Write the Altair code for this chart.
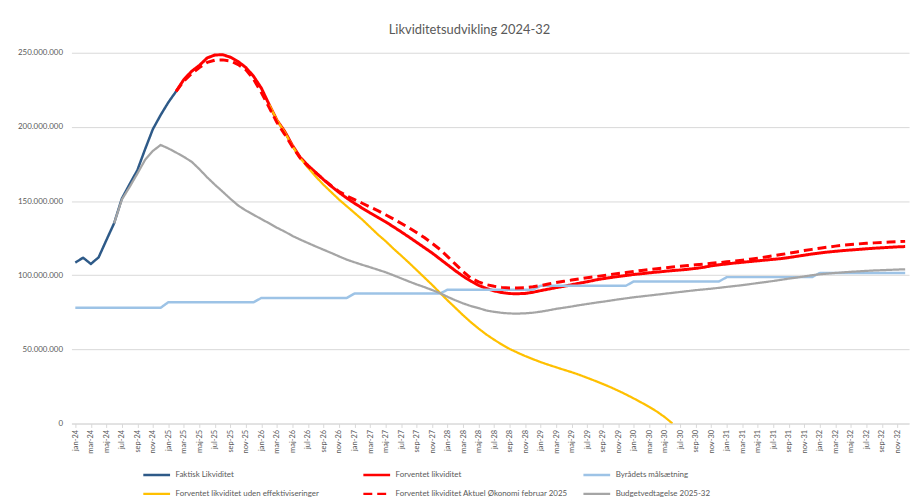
import altair as alt
import pandas as pd

# ---------------- data (values in millions DKK) ----------------
month_names = ["jan", "feb", "mar", "apr", "maj", "jun", "jul", "aug", "sep", "okt", "nov", "dec"]
years = ["24", "25", "26", "27", "28", "29", "30", "31", "32"]
months = [f"{m}-{y}" for y in years for m in month_names]

series_order = [
    "Faktisk Likviditet",
    "Forventet likviditet",
    "Byrådets målsætning",
    "Forventet likviditet uden effektiviseringer",
    "Forventet likviditet Aktuel Økonomi februar 2025",
    "Budgetvedtagelse 2025-32",
]
colors = ["#2E5A88", "#FF0000", "#9DC3E6", "#FFC000", "#FF0000", "#A5A5A5"]
dashes = [[1, 0], [1, 0], [1, 0], [1, 0], [9, 5], [1, 0]]
widths = [2.5, 3, 2.5, 2.25, 3, 2.25]

# jan-24 .. feb-25
faktisk_start = 0
faktisk = [108.5, 111.8, 107.6, 112, 123.6, 135, 151.7, 161.4, 170.8, 185, 198.5, 208, 216.6, 224]

# feb-25 .. dec-32
forventet_start = 13
forventet = [
    224, 232, 237.5, 241.5, 246.5, 248.5, 248.7, 247, 244, 240,
    234, 226, 215, 204.5, 197, 187.5, 179.5, 174, 169.3, 164.5,
    160, 155.8, 152, 148.5, 145.2, 142, 139, 136, 132.7, 129.3,
    125.8, 122.2, 118.6, 115, 111, 107, 103, 99.3, 96, 93.2,
    91, 89.4, 88.3, 87.6, 87.5, 87.7, 88.5, 89.6, 90.6, 91.6,
    92.5, 93.6, 94.6, 95.6, 96.7, 97.6, 98.4, 99.1, 99.8, 100.5,
    101, 101.6, 102.1, 102.6, 103.1, 103.5, 104, 104.6, 105.3, 106.3,
    107, 107.6, 108.2, 108.7, 109.2, 109.7, 110.2, 110.7, 111.2, 111.9,
    112.7, 113.5, 114.3, 115, 115.6, 116.1, 116.6, 117, 117.4, 117.8,
    118.2, 118.5, 118.8, 119.1, 119.3,
]

# yearly target 2024 .. 2032
maal_years = [78, 81.8, 84.7, 87.6, 90.2, 92.9, 95.8, 98.7, 101.5]

# feb-26 .. jun-30
uden_start = 25
uden = [
    215, 204.5, 196.5, 187, 179, 172.5, 166.5, 161, 156, 151,
    146.5, 142, 137.5, 132.5, 127.5, 123, 118, 113.3, 108.5, 103.5,
    98.5, 93.5, 88.2, 83, 78, 73, 68.3, 64, 60, 56.5,
    53.2, 50.3, 47.8, 45.5, 43.4, 41.4, 39.6, 37.9, 36.2, 34.6,
    32.8, 30.8, 28.8, 26.7, 24.5, 22.1, 19.6, 16.9, 14.1, 11.2,
    8, 4.3, 0,
]

# feb-25 .. dec-32
aktuel_start = 13
aktuel = [
    224, 231, 236, 240, 243.5, 245, 245.2, 244.5, 242, 238.5,
    232, 223, 213, 203, 195, 186.5, 179, 173.5, 169, 164.5,
    160.3, 156.5, 153.5, 151, 148.5, 146, 143.5, 140.8, 138, 135,
    132, 128.8, 125.4, 121.5, 117.5, 112.5, 107.5, 102.5, 98, 95.5,
    93.6, 92.5, 91.8, 91.4, 91.4, 91.6, 92.2, 93, 94.1, 95.1,
    95.9, 96.7, 97.5, 98.3, 99, 99.7, 100.4, 101.1, 101.8, 102.5,
    103.2, 103.8, 104.4, 105, 105.5, 106, 106.5, 107, 107.5, 108,
    108.5, 109, 109.5, 110.1, 110.8, 111.5, 112.3, 113.1, 113.9, 114.8,
    115.7, 116.6, 117.4, 118.2, 118.9, 119.6, 120.2, 120.7, 121.1, 121.5,
    121.8, 122.1, 122.4, 122.6, 122.8,
]

# jun-24 .. dec-32
budget_start = 5
budget = [
    135, 151, 159.5, 168.5, 177.8, 183.8, 187.8, 185.5, 182.7, 179.8,
    176.5, 171.5, 166, 161, 156.3, 151.5, 147, 143.6, 140.7, 137.8,
    135, 132, 129.4, 126.5, 124, 121.7, 119.4, 117.2, 115, 112.7,
    110.5, 108.7, 107, 105.4, 103.7, 102, 100, 97.9, 95.8, 93.8,
    92, 90, 88, 85.4, 83.1, 81, 79.2, 77.8, 76.2, 75.3,
    74.6, 74.2, 74.1, 74.3, 74.7, 75.4, 76.3, 77.3, 78.1, 78.9,
    79.8, 80.6, 81.4, 82.1, 82.9, 83.7, 84.4, 85.1, 85.7, 86.3,
    86.9, 87.5, 88.1, 88.7, 89.3, 89.9, 90.4, 90.9, 91.5, 92.1,
    92.7, 93.3, 94, 94.7, 95.4, 96.1, 96.9, 97.7, 98.4, 99.2,
    100, 100.6, 101.1, 101.5, 101.9, 102.3, 102.6, 102.9, 103.2, 103.4,
    103.6, 103.8, 104,
]

y_ticks = [0, 50_000_000, 100_000_000, 150_000_000, 200_000_000, 250_000_000]

# ---------------- table ----------------
maal = [v for v in maal_years for _ in range(12)]
series_data = [
    (series_order[0], faktisk_start, faktisk),
    (series_order[1], forventet_start, forventet),
    (series_order[2], 0, maal),
    (series_order[3], uden_start, uden),
    (series_order[4], aktuel_start, aktuel),
    (series_order[5], budget_start, budget),
]
rows = []
for name, start, vals in series_data:
    for k, v in enumerate(vals):
        rows.append({"series": name, "month": months[start + k], "value": v * 1_000_000})
df = pd.DataFrame(rows)

# ---------------- chart ----------------
FONT = "Lato"
TXT = "#595959"

legend = alt.Legend(
    title=None, orient="none", legendX=80, legendY=420, columns=3, direction="horizontal",
    gridAlign="all", columnPadding=10, rowPadding=8,
    symbolType="M-3,0H3", symbolSize=81, symbolStrokeWidth=2.5,
    labelFont=FONT, labelFontSize=8, labelColor=TXT, labelLimit=400, labelOffset=13,
)

x_enc = alt.X(
    "month:O", title=None,
    scale=alt.Scale(domain=months, padding=0.5),
    axis=alt.Axis(
        values=months[::2], labelAngle=270, labelFont=FONT, labelFontSize=7.5,
        labelColor=TXT, domainColor="#D9D9D9", tickColor="#D9D9D9", tickSize=4,
        labelPadding=2, grid=False,
    ),
)
y_enc = alt.Y(
    "value:Q", title=None,
    scale=alt.Scale(domain=[0, 250_000_000], nice=False, zero=True),
    axis=alt.Axis(
        values=y_ticks, labelExpr="replace(format(datum.value, ','), regexp(',', 'g'), '.')",
        labelFont=FONT, labelFontSize=8, labelColor=TXT, ticks=False, domain=False,
        gridColor="#D9D9D9", gridWidth=1, labelPadding=9,
    ),
)
color_enc = alt.Color("series:N", scale=alt.Scale(domain=series_order, range=colors), legend=legend)
dash_enc = alt.StrokeDash("series:N", scale=alt.Scale(domain=series_order, range=dashes), legend=legend)

layers = []
for name, w in zip(series_order, widths):
    layers.append(
        alt.Chart(df)
        .transform_filter(alt.datum.series == name)
        .mark_line(strokeWidth=w, clip=True, strokeJoin="round")
        .encode(x=x_enc, y=y_enc, color=color_enc, strokeDash=dash_enc)
    )

chart = (
    alt.layer(*layers)
    .properties(
        width=845, height=374,
        title=alt.TitleParams(
            "Likviditetsudvikling 2024-32", font=FONT, fontSize=13, fontWeight="normal",
            color=TXT, anchor="middle", dx=-21, offset=12,
        ),
        autosize=alt.AutoSizeParams(type="none"),
        padding={"left": 64, "top": 43, "right": 5, "bottom": 72},
        background="white",
    )
    .configure_view(stroke=None)
)

chart.save("out.html", embed_options={"renderer": "svg", "actions": False})
